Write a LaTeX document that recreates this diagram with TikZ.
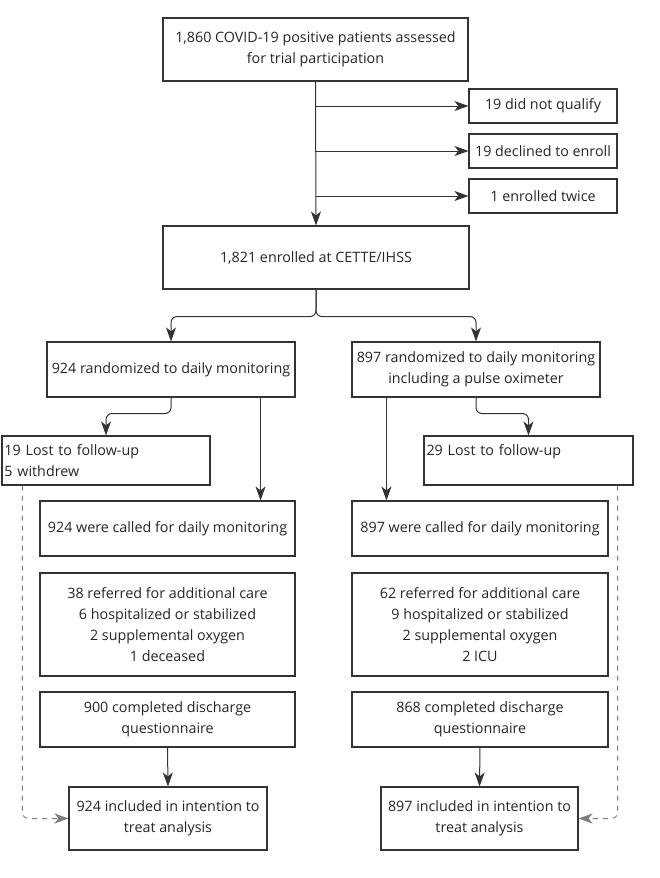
\documentclass[tikz,border=0pt]{standalone}
\usepackage{fontspec}
\setmainfont{Open Sans}
\usetikzlibrary{arrows.meta}
\definecolor{edge}{HTML}{333333}
\definecolor{ink}{HTML}{262626}
\definecolor{dashgray}{HTML}{7C7C7C}

\begin{document}
\begin{tikzpicture}[x=1pt,y=-1pt,
  box/.style={draw=edge,line width=1.1pt,inner sep=0pt,align=center,text=ink,
    font=\fontsize{14.3}{21}\selectfont},
  leftbox/.style={box,align=left,inner xsep=2.5pt},
  tip/.style={-{Stealth[length=14pt,width=10pt,inset=4pt]}},
  arr/.style={draw=edge,line width=1pt,tip},
  dsh/.style={draw=dashgray,line width=1pt,dash pattern=on 5pt off 5pt,tip},
  curved/.style={rounded corners=6pt}
]
\useasboundingbox (0,0) rectangle (660,878);
\fill[white] (0,0) rectangle (660,878);

% screening and enrolment
\node[box,minimum width=305pt,minimum height=63pt] (top) at (315.5,49.5)
  {1,860 COVID-19 positive patients assessed\\for trial participation};
\node[box,minimum width=148pt,minimum height=34pt] (q1) at (543,106) {19 did not qualify};
\node[box,minimum width=148pt,minimum height=34pt] (q2) at (543,151) {19 declined to enroll};
\node[box,minimum width=148pt,minimum height=34pt] (q3) at (543,196) {1 enrolled twice};
\node[box,minimum width=306pt,minimum height=63pt] (enr) at (316,257.5)
  {1,821 enrolled at CETTE/IHSS};

% randomised arms
\node[box,minimum width=248pt,minimum height=55pt] (r1) at (171,369.5)
  {924 randomized to daily monitoring};
\node[box,minimum width=248pt,minimum height=55pt] (r2) at (476,369.5)
  {897 randomized to daily monitoring\\including a pulse oximeter};

\node[leftbox,text width=203pt,minimum height=49pt] (l1) at (106,460.5)
  {19 Lost to follow-up\\5 withdrew};
\node[leftbox,text width=204pt,minimum height=49pt] (l2) at (528.5,460.5)
  {29 Lost to follow-up\\\mbox{}};

\node[box,minimum width=255pt,minimum height=55pt] (c1) at (167.5,528.5)
  {924 were called for daily monitoring};
\node[box,minimum width=256pt,minimum height=55pt] (c2) at (480,528.5)
  {897 were called for daily monitoring};

\node[box,minimum width=255pt,minimum height=103pt] (f1) at (167.5,624.5)
  {38 referred for additional care\\6 hospitalized or stabilized\\2 supplemental oxygen\\1 deceased};
\node[box,minimum width=256pt,minimum height=103pt] (f2) at (480,624.5)
  {62 referred for additional care\\9 hospitalized or stabilized\\2 supplemental oxygen\\2 ICU};

\node[box,minimum width=255pt,minimum height=55pt] (d1) at (167.5,719.5)
  {900 completed discharge\\questionnaire};
\node[box,minimum width=256pt,minimum height=55pt] (d2) at (480,719.5)
  {868 completed discharge\\questionnaire};

\node[box,minimum width=198pt,minimum height=63pt] (b1) at (168,818.5)
  {924 included in intention to\\treat analysis};
\node[box,minimum width=197pt,minimum height=63pt] (b2) at (479.5,818.5)
  {897 included in intention to\\treat analysis};

% connectors
\draw[arr] (top.south) -- (enr.north);
\draw[arr] (top.south |- q1.west) -- (q1.west);
\draw[arr] (top.south |- q2.west) -- (q2.west);
\draw[arr] (top.south |- q3.west) -- (q3.west);

\draw[arr,curved] (enr.south) -- ++(0,27) -| (r1.north);
\draw[arr,curved] (enr.south) -- ++(0,27) -| (r2.north);

\draw[arr,curved] (r1.south) -- ++(0,16) -| (l1.north);
\draw[arr,curved] (r2.south) -- ++(0,16) -| (l2.north);
\draw[arr] ([xshift=-35pt]r1.south east) -- ([xshift=-35pt]r1.south east |- c1.north);
\draw[arr] ([xshift=35pt]r2.south west) -- ([xshift=35pt]r2.south west |- c2.north);

\draw[arr] (d1.south) -- (b1.north);
\draw[arr] (d2.south) -- (b2.north);

\draw[dsh,curved] ([xshift=21pt]l1.south west) |- (b1.west);
\draw[dsh,curved] ([xshift=-16pt]l2.south east) |- (b2.east);
\end{tikzpicture}
\end{document}
